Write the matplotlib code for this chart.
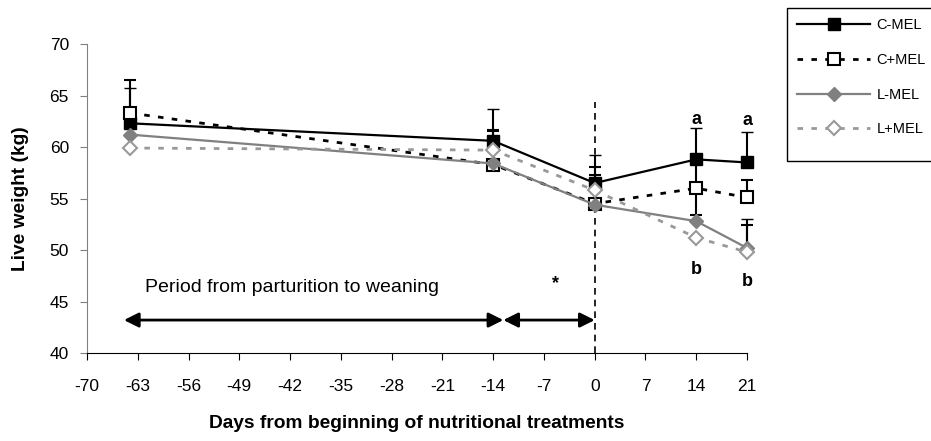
import matplotlib.pyplot as plt
from matplotlib.lines import Line2D
from matplotlib.patches import Rectangle

plt.rcParams['font.family'] = ['Liberation Sans', 'DejaVu Sans']
plt.rcParams['axes.unicode_minus'] = False

# sampling days relative to start of nutritional treatments
days = [-64, -14, 0, 14, 21]

c_mel = [62.3, 60.6, 56.5, 58.8, 58.5]
c_plus = [63.3, 58.3, 54.5, 56.0, 55.1]
l_mel = [61.2, 58.4, 54.4, 52.8, 50.2]
l_plus = [59.9, 59.7, 55.8, 51.2, 49.8]

# standard errors (upper bar; lower only where shown)
c_mel_up = [3.4, 3.1, 2.7, 3.0, 3.0]
c_plus_up = [3.2, 3.3, 3.6, 2.6, 1.7]
c_plus_lo = [0, 0, 0, 2.6, 0]
l_mel_up = [0, 0, 0, 0, 2.8]
l_plus_up = [0, 2.0, 1.5, 0, 2.6]

fig = plt.figure(figsize=(9.31, 4.41), dpi=100)
ax = fig.add_axes([0.0934, 0.1995, 0.709, 0.7007])

ebkw = dict(ecolor='black', elinewidth=1.5, capsize=4.5, capthick=1.5)

styles = [
    dict(color='black', ls='-', lw=1.6, marker='s', ms=9, mfc='black', mec='black', mew=1),
    dict(color='black', ls=(0, (2, 3)), lw=2, marker='s', ms=9, mfc='white', mec='black', mew=1.5),
    dict(color='#808080', ls='-', lw=1.6, marker='D', ms=7, mfc='#808080', mec='#808080', mew=1),
    dict(color='#999999', ls=(0, (2, 3)), lw=2, marker='D', ms=7, mfc='white', mec='#999999', mew=1.5),
]
series = [c_mel, c_plus, l_mel, l_plus]
errs = [[[0] * 5, c_mel_up], [c_plus_lo, c_plus_up],
        [[0] * 5, l_mel_up], [[0] * 5, l_plus_up]]
names = ['C-MEL', 'C+MEL', 'L-MEL', 'L+MEL']

for vals, err, st in zip(series, errs, styles):
    eb = ax.errorbar(days, vals, yerr=err, **st, **ebkw)
    line, caps, bars = eb.lines
    for art in [line, *caps, *bars]:
        art.set_clip_on(False)

# start of treatment
ax.plot([0, 0], [40, 64.4], color='black', ls=(0, (4, 3)), lw=1.2, zorder=1)

# period arrows
arrow = dict(arrowstyle='<|-|>', color='black', lw=2, mutation_scale=22,
             shrinkA=0, shrinkB=0)
ax.annotate('', xy=(-64.9, 43.2), xytext=(-12.6, 43.2), arrowprops=arrow)
ax.annotate('', xy=(-12.6, 43.2), xytext=(0, 43.2), arrowprops=arrow)
ax.text(-41.8, 46.4, 'Period from parturition to weaning', ha='center',
        va='center', fontsize=14)
ax.text(-5.4, 46.7, '*', ha='center', va='center', fontsize=13, fontweight='bold')

for x, y in [(14, 62.7), (21, 62.6)]:
    ax.text(x, y, 'a', ha='center', va='center', fontsize=13, fontweight='bold')
for x, y in [(14, 48.1), (21, 46.9)]:
    ax.text(x, y, 'b', ha='center', va='center', fontsize=13, fontweight='bold')

ax.set_xlim(-70, 21)
ax.set_ylim(40, 70)
ax.set_xticks(range(-70, 22, 7))
ax.set_yticks(range(40, 71, 5))
ax.tick_params(direction='out', length=5, labelsize=12.5, pad=8)
ax.tick_params(axis='x', pad=14)
ax.spines['top'].set_visible(False)
ax.spines['right'].set_visible(False)
ax.spines['left'].set_color('#808080')
ax.tick_params(axis='y', color='#808080')

ax.set_xlabel('Days from beginning of nutritional treatments', fontsize=13.8,
              fontweight='bold', labelpad=15)
ax.set_ylabel('Live weight (kg)', fontsize=13.8, fontweight='bold', labelpad=15)

# legend box sits at the top right, running off the edge
fig.patches.append(Rectangle((787 / 931, 1 - 161 / 441), 150 / 931, 153 / 441,
                             transform=fig.transFigure, fill=False,
                             edgecolor='black', lw=1))
handles = [Line2D([], [], **st) for st in styles]
leg = fig.legend(handles, names, loc='upper left',
                 bbox_to_anchor=(787 / 931, 1 - 8 / 441), fontsize=10.5,
                 handlelength=5.0, labelspacing=1.42, borderpad=0.7,
                 borderaxespad=0, handletextpad=0.45, frameon=False)

fig.savefig('out.png', dpi=100)
